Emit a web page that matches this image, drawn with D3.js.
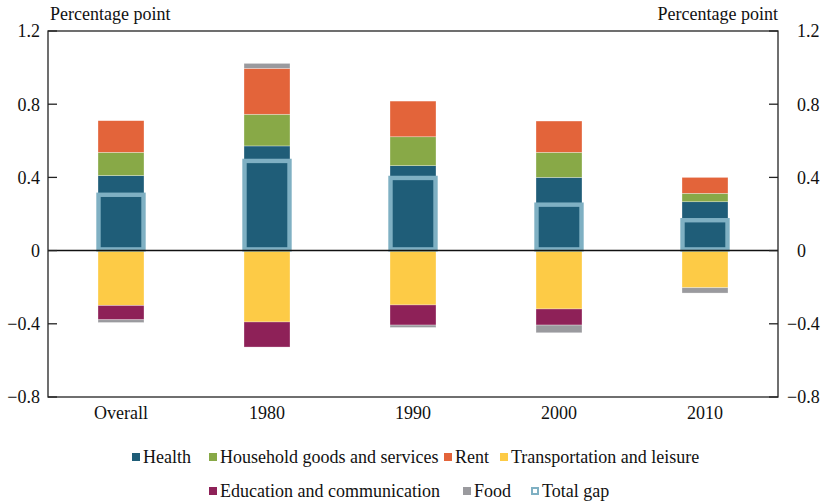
<!DOCTYPE html>
<html>
<head>
<meta charset="utf-8">
<script src="https://cdn.jsdelivr.net/npm/d3@7"></script>
<style>
  body { margin: 0; background: #fff; }
  text { font-family: "Liberation Serif", "DejaVu Serif", serif; fill: #111; }
</style>
</head>
<body>
<script>
// Categories and series values (percentage points)
const categories = ["Overall", "1980", "1990", "2000", "2010"];
const health     = [0.41, 0.572, 0.464, 0.40, 0.267];
const household  = [0.127, 0.173, 0.158, 0.137, 0.046];
const rent       = [0.173, 0.251, 0.195, 0.171, 0.087];
const transport  = [-0.30, -0.39, -0.297, -0.319, -0.203];
const education  = [-0.078, -0.137, -0.11, -0.088, 0];
const food       = [-0.015, 0.027, -0.013, -0.042, -0.029];
const totalGap   = [0.305, 0.49, 0.397, 0.251, 0.166];
const yTicks     = [-0.8, -0.4, 0, 0.4, 0.8, 1.2];

const series = [
  { key: "Health", values: health, color: "#1f5d78" },
  { key: "Household goods and services", values: household, color: "#88a947" },
  { key: "Rent", values: rent, color: "#e3643a" },
  { key: "Transportation and leisure", values: transport, color: "#fdcb46" },
  { key: "Education and communication", values: education, color: "#8e2158" },
  { key: "Food", values: food, color: "#9a9a9e" }
];
const gapColor = "#7fb0c3";

const width = 822, height = 504;
const margin = { top: 31, right: 44, bottom: 107, left: 48 };

const svg = d3.select("body").append("svg")
  .attr("width", width)
  .attr("height", height);

const x = d3.scaleBand()
  .domain(categories)
  .range([margin.left, width - margin.right])
  .paddingInner(0.685)
  .paddingOuter(0.3425);

const y = d3.scaleLinear()
  .domain([-0.8, 1.2])
  .range([height - margin.bottom, margin.top]);

// build table for the stack
const table = categories.map((c, i) => {
  const row = { category: c };
  series.forEach(s => { row[s.key] = s.values[i]; });
  return row;
});

const stacked = d3.stack()
  .keys(series.map(s => s.key))
  .offset(d3.stackOffsetDiverging)(table);

// stacked bars
svg.append("g")
  .selectAll("g")
  .data(stacked)
  .join("g")
  .attr("fill", (d, i) => series[i].color)
  .selectAll("rect")
  .data(d => d)
  .join("rect")
  .attr("x", d => x(d.data.category))
  .attr("width", x.bandwidth())
  .attr("y", d => y(Math.max(d[0], d[1])))
  .attr("height", d => Math.abs(y(d[0]) - y(d[1])))
  .attr("stroke", "#fff")
  .attr("stroke-width", 0.6)
  .attr("stroke-opacity", 0.5);

// total gap boxes
svg.append("g")
  .selectAll("rect")
  .data(categories)
  .join("rect")
  .attr("x", d => x(d) + 0.5)
  .attr("width", x.bandwidth() - 1)
  .attr("y", (d, i) => y(totalGap[i]))
  .attr("height", (d, i) => y(0) - 1.2 - y(totalGap[i]))
  .attr("fill", "none")
  .attr("stroke", gapColor)
  .attr("stroke-width", 4.4);

// zero line
svg.append("line")
  .attr("x1", margin.left).attr("x2", width - margin.right)
  .attr("y1", y(0)).attr("y2", y(0))
  .attr("stroke", "#111")
  .attr("stroke-width", 1.5);

// frame
svg.append("rect")
  .attr("x", margin.left)
  .attr("y", margin.top)
  .attr("width", width - margin.left - margin.right)
  .attr("height", height - margin.top - margin.bottom)
  .attr("fill", "none")
  .attr("stroke", "#222")
  .attr("stroke-width", 1.3);

const fmt = v => (v < 0 ? "\u2212" : "") + (v === 0 ? "0" : Math.abs(v).toFixed(1));
const xL = margin.left, xR = width - margin.right;

// ticks, both sides pointing inward
const ticks = svg.append("g").attr("stroke", "#222").attr("stroke-width", 1.3);
ticks.selectAll(".tl").data(yTicks).join("line")
  .attr("x1", xL).attr("x2", xL + 9)
  .attr("y1", d => y(d)).attr("y2", d => y(d));
ticks.selectAll(".tr").data(yTicks).join("line")
  .attr("x1", xR - 9).attr("x2", xR)
  .attr("y1", d => y(d)).attr("y2", d => y(d));

// left tick labels
svg.append("g")
  .selectAll("text")
  .data(yTicks)
  .join("text")
  .attr("x", 40)
  .attr("y", d => y(d))
  .attr("dy", "0.35em")
  .attr("text-anchor", "end")
  .style("font-size", "18px")
  .text(fmt);

// right tick labels: digits aligned, minus sign hangs left
svg.append("g")
  .selectAll("text")
  .data(yTicks)
  .join("text")
  .attr("x", d => d < 0 ? 787 : 797)
  .attr("y", d => y(d))
  .attr("dy", "0.35em")
  .style("font-size", "18px")
  .text(fmt);

// axis titles
svg.append("text")
  .attr("x", 50).attr("y", 20)
  .style("font-size", "18px")
  .text("Percentage point");
svg.append("text")
  .attr("x", xR).attr("y", 20)
  .attr("text-anchor", "end")
  .style("font-size", "18px")
  .text("Percentage point");

// category labels
svg.append("g")
  .selectAll("text")
  .data(categories)
  .join("text")
  .attr("x", d => x(d) + x.bandwidth() / 2)
  .attr("y", 413)
  .attr("dy", "0.35em")
  .attr("text-anchor", "middle")
  .style("font-size", "18px")
  .text(d => d);

// legend
const legendItems = [
  { key: "Health", color: series[0].color, x: 132, y: 457 },
  { key: "Household goods and services", color: series[1].color, x: 209, y: 457 },
  { key: "Rent", color: series[2].color, x: 444, y: 457 },
  { key: "Transportation and leisure", color: series[3].color, x: 500, y: 457 },
  { key: "Education and communication", color: series[4].color, x: 209, y: 491 },
  { key: "Food", color: series[5].color, x: 463, y: 491 },
  { key: "Total gap", color: null, x: 531, y: 491 }
];

const lg = svg.append("g")
  .selectAll("g")
  .data(legendItems)
  .join("g")
  .attr("transform", d => `translate(${d.x},${d.y})`);

lg.append("rect")
  .attr("x", d => d.color ? 0 : 1)
  .attr("y", d => d.color ? -4 : -3)
  .attr("width", d => d.color ? 8 : 6)
  .attr("height", d => d.color ? 8 : 6)
  .attr("fill", d => d.color || "none")
  .attr("stroke", d => d.color ? "none" : gapColor)
  .attr("stroke-width", 2);

lg.append("text")
  .attr("x", 11)
  .attr("dy", "0.33em")
  .style("font-size", "18px")
  .text(d => d.key);
</script>
</body>
</html>
